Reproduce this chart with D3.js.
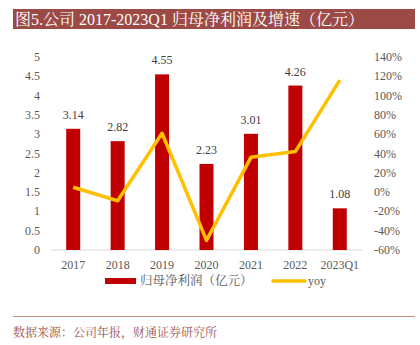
<!DOCTYPE html>
<html>
<head>
<meta charset="utf-8">
<script src="https://cdn.jsdelivr.net/npm/d3@7"></script>
<style>
  body { margin: 0; background: #fff; }
</style>
</head>
<body>
<div id="chart"></div>
<script>
const years = ["2017", "2018", "2019", "2020", "2021", "2022", "2023Q1"];
const profit = [3.14, 2.82, 4.55, 2.23, 3.01, 4.26, 1.08];
const yoy = [0.05, -0.09, 0.61, -0.50, 0.36, 0.42, 1.16];
const leftTicks = [0, 0.5, 1, 1.5, 2, 2.5, 3, 3.5, 4, 4.5, 5];
const rightTicks = [-0.6, -0.4, -0.2, 0, 0.2, 0.4, 0.6, 0.8, 1.0, 1.2, 1.4];

const serif = "'Liberation Serif', 'Times New Roman', 'Noto Sans CJK SC', serif";
const cjk = "'Liberation Serif', 'Noto Serif CJK SC', 'Noto Sans CJK SC', serif";

let svg = d3.select("#chart")
    .append("svg")
    .attr("width", 420)
    .attr("height", 345);

// title bar
svg.append("rect")
    .attr("x", 13).attr("y", 9)
    .attr("width", 402).attr("height", 20)
    .attr("fill", "#9c4a46");
svg.append("text")
    .attr("x", 15).attr("y", 25)
    .attr("fill", "#fff")
    .style("font-family", cjk)
    .style("font-size", "16px")
    .text("图5.公司 2017-2023Q1 归母净利润及增速（亿元）");

let x = d3.scaleBand()
    .domain(years)
    .range([51, 362]);

let yLeft = d3.scaleLinear()
    .domain([0, 5])
    .range([250, 57]);

let yRight = d3.scaleLinear()
    .domain([-0.6, 1.4])
    .range([250, 57]);

// x axis line
svg.append("line")
    .attr("x1", 51).attr("x2", 362)
    .attr("y1", yLeft(0)).attr("y2", yLeft(0))
    .attr("stroke", "#d9d9d9")
    .attr("stroke-width", 1);

// left axis labels
svg.append("g")
    .selectAll("text")
    .data(leftTicks)
    .join("text")
    .attr("x", 40)
    .attr("y", d => yLeft(d) + 4)
    .attr("text-anchor", "end")
    .attr("fill", "#595959")
    .style("font-family", serif)
    .style("font-size", "12px")
    .text(d => d);

// right axis labels
svg.append("g")
    .selectAll("text")
    .data(rightTicks)
    .join("text")
    .attr("x", 374)
    .attr("y", d => yRight(d) + 4)
    .attr("fill", "#595959")
    .style("font-family", serif)
    .style("font-size", "12px")
    .text(d => Math.round(d * 100) + "%");

// x labels
svg.append("g")
    .selectAll("text")
    .data(years)
    .join("text")
    .attr("x", d => x(d) + x.bandwidth() / 2)
    .attr("y", 269)
    .attr("text-anchor", "middle")
    .attr("fill", "#595959")
    .style("font-family", serif)
    .style("font-size", "12px")
    .text(d => d);

// bars
let barW = 14;
svg.append("g")
    .selectAll("rect")
    .data(profit)
    .join("rect")
    .attr("x", (d, i) => x(years[i]) + x.bandwidth() / 2 - barW / 2)
    .attr("y", d => yLeft(d))
    .attr("width", barW)
    .attr("height", d => yLeft(0) - yLeft(d))
    .attr("fill", "#c00000");

svg.append("g")
    .selectAll("text")
    .data(profit)
    .join("text")
    .attr("x", (d, i) => x(years[i]) + x.bandwidth() / 2)
    .attr("y", d => yLeft(d) - 10)
    .attr("text-anchor", "middle")
    .attr("fill", "#404040")
    .style("font-family", serif)
    .style("font-size", "12px")
    .text(d => d.toFixed(2));

// yoy line
svg.append("path")
    .datum(yoy)
    .attr("fill", "none")
    .attr("stroke", "#ffc000")
    .attr("stroke-width", 3.5)
    .attr("stroke-linejoin", "round")
    .attr("d", d3.line()
        .x((d, i) => x(years[i]) + x.bandwidth() / 2)
        .y(d => yRight(d)));

// legend
svg.append("rect")
    .attr("x", 105).attr("y", 278)
    .attr("width", 31).attr("height", 6)
    .attr("fill", "#c00000");
svg.append("text")
    .attr("x", 140).attr("y", 285)
    .attr("fill", "#595959")
    .style("font-family", cjk)
    .style("font-size", "12.5px")
    .text("归母净利润（亿元）");
svg.append("line")
    .attr("x1", 273).attr("x2", 305)
    .attr("y1", 281).attr("y2", 281)
    .attr("stroke", "#ffc000")
    .attr("stroke-width", 3.5)
    .attr("stroke-linecap", "round");
svg.append("text")
    .attr("x", 308).attr("y", 285)
    .attr("fill", "#595959")
    .style("font-family", serif)
    .style("font-size", "12px")
    .text("yoy");

// footer
svg.append("line")
    .attr("x1", 13).attr("x2", 415)
    .attr("y1", 316.5).attr("y2", 316.5)
    .attr("stroke", "#c9918d")
    .attr("stroke-width", 1);
svg.append("text")
    .attr("x", 13).attr("y", 337)
    .attr("fill", "#a0524d")
    .style("font-family", cjk)
    .style("font-size", "12px")
    .text("数据来源：公司年报，财通证券研究所");
</script>
</body>
</html>
